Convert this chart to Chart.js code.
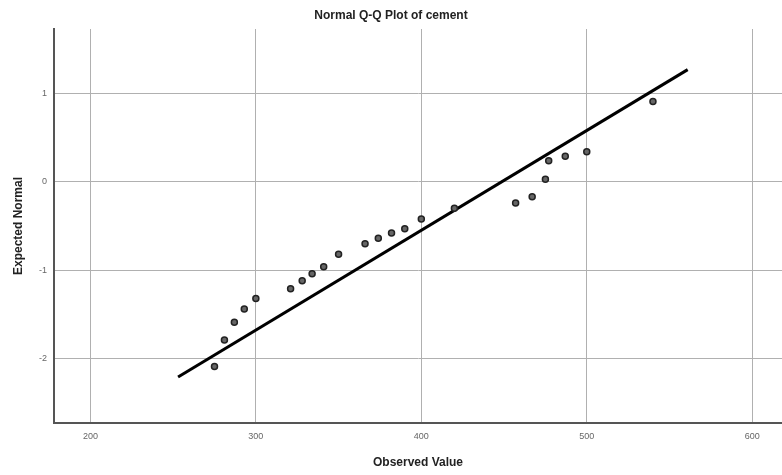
<!DOCTYPE html>
<html>
<head>
<meta charset="utf-8">
<script src="https://cdn.jsdelivr.net/npm/chart.js@4/dist/chart.umd.min.js"></script>
<style>
html,body{margin:0;padding:0;background:#fff;}
#wrap{width:782px;height:475px;position:relative;}
</style>
</head>
<body>
<div id="wrap"><canvas id="c" width="782" height="475"></canvas></div>
<script>
// Data
const observed = [275, 281, 287, 293, 300, 321, 328, 334, 341, 350, 366, 374, 382, 390, 400, 420, 457, 467, 475, 477, 487, 500, 540];
const expected = [-2.09, -1.79, -1.59, -1.44, -1.32, -1.21, -1.12, -1.04, -0.96, -0.82, -0.70, -0.64, -0.58, -0.53, -0.42, -0.30, -0.24, -0.17, 0.03, 0.24, 0.29, 0.34, 0.91];
const lineX = [253, 561];
const lineY = [-2.21, 1.27];
const xTicks = [200, 300, 400, 500, 600];
const yTicks = [-2, -1, 0, 1];

const pts = observed.map((x, i) => ({x: x, y: expected[i]}));
const linePts = lineX.map((x, i) => ({x: x, y: lineY[i]}));

const FONT = "'Liberation Sans', Arial, sans-serif";

new Chart(document.getElementById('c'), {
  type: 'scatter',
  data: {
    datasets: [
      {
        type: 'line',
        data: linePts,
        borderColor: '#000',
        borderWidth: 3,
        pointRadius: 0,
        pointHoverRadius: 0,
        fill: false,
        order: 2
      },
      {
        data: pts,
        backgroundColor: '#666',
        borderColor: '#222',
        borderWidth: 1.5,
        pointRadius: 3,
        pointHoverRadius: 3,
        order: 1
      }
    ]
  },
  options: {
    responsive: false,
    animation: false,
    devicePixelRatio: 1,
    layout: {padding: 0, autoPadding: false},
    plugins: {
      legend: {display: false},
      tooltip: {enabled: false},
      title: {
        display: true,
        text: 'Normal Q-Q Plot of cement',
        color: '#222',
        font: {family: FONT, size: 12, weight: 'bold'},
        padding: {top: 8, bottom: 6.6}
      }
    },
    scales: {
      x: {
        type: 'linear',
        min: 178,
        max: 618,
        afterBuildTicks: (s) => { s.ticks = xTicks.map(v => ({value: v})); },
        afterFit: (s) => { s.height = 52; s.paddingLeft = 0; s.paddingRight = 0; },
        grid: {color: '#b0b0b0', lineWidth: 1, drawTicks: false},
        border: {display: true, color: '#555', width: 2},
        ticks: {color: '#666', font: {family: FONT, size: 9}, padding: 8, maxRotation: 0},
        title: {
          display: true,
          text: 'Observed Value',
          color: '#222',
          font: {family: FONT, size: 12, weight: 'bold'},
          padding: {top: 0, bottom: 5}
        }
      },
      y: {
        type: 'linear',
        min: -2.73,
        max: 1.73,
        afterBuildTicks: (s) => { s.ticks = yTicks.map(v => ({value: v})); },
        afterFit: (s) => { s.width = 54; s.paddingTop = 0; s.paddingBottom = 0; },
        grid: {color: '#b0b0b0', lineWidth: 1, drawTicks: false},
        border: {display: true, color: '#555', width: 2},
        ticks: {color: '#666', font: {family: FONT, size: 9}, padding: 7},
        title: {
          display: true,
          text: 'Expected Normal',
          color: '#222',
          font: {family: FONT, size: 12, weight: 'bold'},
          padding: {top: 11, bottom: 0}
        }
      }
    }
  }
});
</script>
</body>
</html>
